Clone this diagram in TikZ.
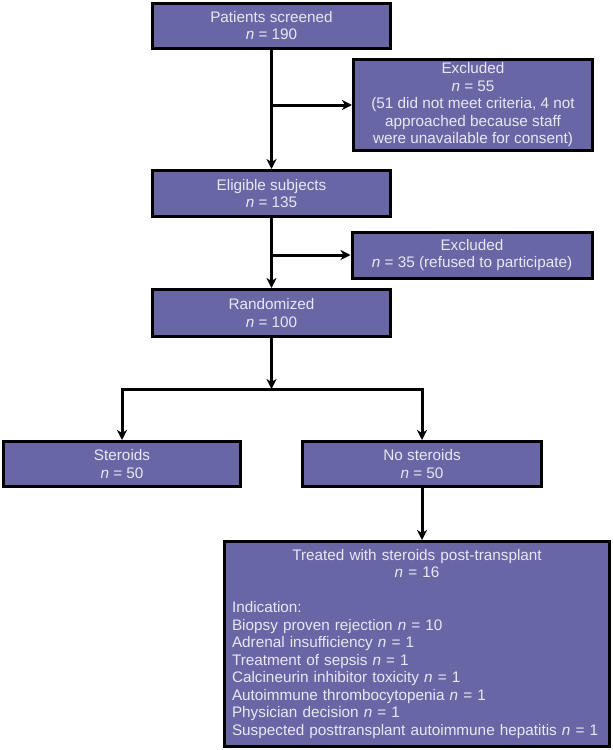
\documentclass[tikz,border=0pt]{standalone}
\usepackage{fontspec}
\setmainfont{Liberation Sans}
\usepackage{xcolor}
\usetikzlibrary{positioning}
\usetikzlibrary{arrows.meta, calc}
\definecolor{boxpurple}{RGB}{105,102,166}
\definecolor{boxtext}{RGB}{232,232,240}
\tikzstyle{box} = [rectangle, draw=black, line width=3pt, fill=boxpurple, text=boxtext, align=center, inner sep=2pt, font=\fontsize{15.3}{17.5}\selectfont]
\tikzstyle{arrow} = [line width=3pt, -{Stealth[length=10pt,width=10pt,inset=3pt]}]

\begin{document}
\begin{tikzpicture}[x=1pt,y=1pt]
\useasboundingbox (0,0) rectangle (613,-750);
\node (screen) [box, minimum width=238pt, minimum height=45pt] at (271.5,-25.5) {Patients screened\\\textit{n} = 190};
\node (excl1) [box, minimum width=239pt, minimum height=91pt] at (473,-105) {Excluded\\\textit{n} = 55\\(51 did not meet criteria, 4 not\\approached because staff\\were unavailable for consent)};
\node (elig) [box, minimum width=238pt, minimum height=46pt] at (271.5,-193.5) {Eligible subjects\\\textit{n} = 135};
\node (excl2) [box, minimum width=240pt, minimum height=46pt] at (472,-255) {Excluded\\\textit{n} = 35 (refused to participate)};
\node (rand) [box, minimum width=238pt, minimum height=47pt] at (271.5,-313) {Randomized\\\textit{n} = 100};
\coordinate (split) at (271.5,-389);
\node (ster) [box, minimum width=237pt, minimum height=45pt] at (122,-464) {Steroids\\\textit{n} = 50};
\node (noster) [box, minimum width=239pt, minimum height=45pt] at (422,-464) {No steroids\\\textit{n} = 50};
\node (treat) [box, minimum width=385pt, minimum height=205pt, text width=370pt, align=left] at (417,-644) {{\centering Treated with steroids post-transplant\\\textit{n} = 16\par}
\vspace{17.5pt}
Indication:\\
Biopsy proven rejection \textit{n} = 10\\
Adrenal insufficiency \textit{n} = 1\\
Treatment of sepsis \textit{n} = 1\\
Calcineurin inhibitor toxicity \textit{n} = 1\\
Autoimmune thrombocytopenia \textit{n} = 1\\
Physician decision \textit{n} = 1\\
Suspected posttransplant autoimmune hepatitis \textit{n} = 1};
\draw[arrow] (screen) -- (elig);
\draw[arrow] (screen |- excl1) -- (excl1);
\draw[arrow] (elig) -- (rand);
\draw[arrow] (elig |- excl2) -- (excl2);
\draw[arrow] (rand) -- (split);
\draw[arrow] (split) -| (ster);
\draw[arrow] (split) -| (noster);
\draw[arrow] (noster) -- (noster |- treat.north);
\end{tikzpicture}
\end{document}
